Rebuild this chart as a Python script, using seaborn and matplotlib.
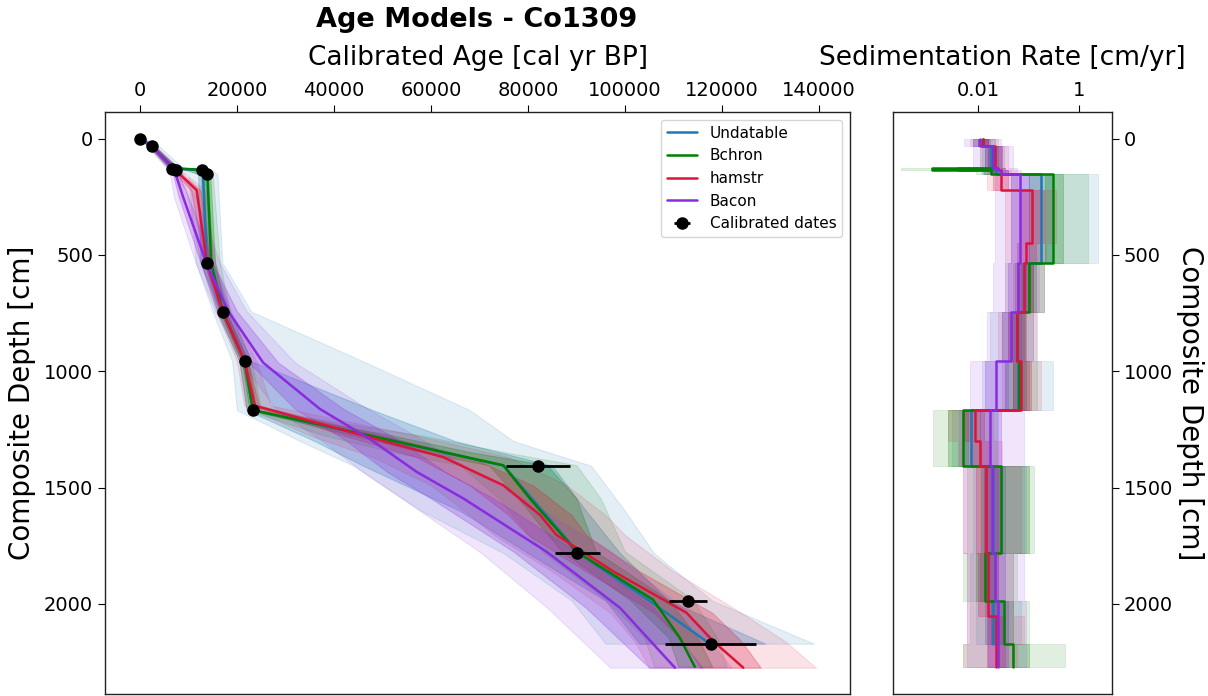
import numpy as np
import matplotlib
matplotlib.use("Agg")
import matplotlib.pyplot as plt
import seaborn as sns
from matplotlib.ticker import FixedLocator, NullLocator, FixedFormatter

# ---------------- calibrated dates ----------------
date_depth = [0, 34, 129, 134, 134, 151, 535, 744, 957, 1167, 1406, 1782, 1986, 2171]
date_age = [0, 2470, 6700, 7400, 12700, 13900, 13900, 17100, 21650, 23300, 82100, 90200, 113000, 117700]
date_err = [100, 150, 200, 200, 300, 300, 300, 350, 400, 500, 6600, 4700, 4000, 9400]

# ---------------- age-depth models (age in cal yr BP) ----------------
und_depth = [0, 34, 128, 137, 154, 534, 744, 957, 1167, 1300, 1406, 1600, 1782, 1986, 2171]
und_med = [0, 2500, 7000, 12800, 13000, 13800, 17100, 21600, 23300, 52000, 75000, 83000, 90500, 105000, 117500]
und_in_lo = [0, 2000, 6000, 10000, 12000, 12500, 16000, 20500, 22000, 36000, 46000, 66000, 80000, 96000, 103000]
und_in_hi = [500, 3000, 8000, 13500, 14000, 15000, 18500, 23000, 48000, 65000, 85000, 92000, 99000, 109000, 129000]
und_out_lo = [0, 1500, 5500, 6000, 10000, 11500, 15000, 19000, 20000, 33000, 44000, 58000, 75000, 89000, 96000]
und_out_hi = [1000, 4000, 9000, 15000, 16000, 17000, 23000, 46000, 68000, 77000, 93000, 100000, 106000, 118000, 139000]

bch_depth = [0, 34, 128, 134, 154, 534, 744, 957, 1167, 1276, 1347, 1404, 1547, 1775, 1982, 2145, 2270]
bch_med = [0, 2500, 7000, 12800, 13900, 14700, 17100, 21600, 23300, 47400, 62500, 74900, 80400, 90000, 105800, 111300, 114400]
bch_in_lo = [0, 2200, 6500, 11000, 13000, 14000, 16500, 21000, 22600, 44000, 58000, 72000, 78000, 87000, 101000, 109000, 111000]
bch_in_hi = [300, 2800, 7500, 13300, 14500, 15500, 17800, 22300, 24000, 52000, 68000, 84000, 90000, 94000, 109000, 115000, 118000]
bch_out_lo = [0, 1800, 6000, 9000, 12500, 13300, 16000, 20500, 22000, 38000, 52000, 66000, 74000, 83000, 96000, 104000, 106000]
bch_out_hi = [500, 3200, 8000, 13800, 15000, 16500, 18500, 23000, 25000, 58000, 75000, 90000, 95000, 100000, 114000, 119000, 121000]

ham_depth = [0, 34, 130, 222, 534, 744, 957, 1148, 1276, 1369, 1490, 1618, 1704, 1860, 2038, 2160, 2274]
ham_med = [0, 2500, 7000, 11700, 13800, 17100, 21600, 23700, 46000, 62500, 74900, 82500, 85900, 97600, 112700, 118200, 124400]
ham_in_lo = [0, 2200, 6500, 10500, 13300, 16500, 21000, 23000, 42000, 57000, 68000, 76000, 80000, 92000, 106000, 112000, 115500]
ham_in_hi = [300, 2800, 7500, 12500, 14500, 17800, 22300, 24500, 50000, 68000, 81000, 89000, 92000, 103000, 118000, 124000, 128000]
ham_out_lo = [0, 1800, 6000, 9500, 12500, 15800, 20000, 21500, 35000, 48000, 60000, 68000, 73000, 85000, 97000, 102000, 105000]
ham_out_hi = [500, 3200, 8000, 13500, 15500, 18800, 24000, 27000, 57000, 76000, 88000, 96000, 100000, 110000, 124000, 133000, 139400]

bac_depth = [0, 34, 130, 251, 535, 742, 963, 1162, 1291, 1433, 1547, 1775, 2017, 2274]
bac_med = [0, 2500, 7000, 8900, 13700, 18200, 25400, 37100, 47400, 57100, 66700, 83800, 99000, 110300]
bac_in_lo = [0, 2200, 6500, 8000, 12500, 16500, 22500, 32000, 42000, 51000, 60000, 77000, 92000, 105000]
bac_in_hi = [300, 2800, 7500, 10000, 15000, 20000, 28500, 42000, 53000, 63000, 73000, 90000, 106000, 116000]
bac_out_lo = [0, 1800, 6000, 7000, 11500, 15500, 21000, 28000, 37000, 46000, 54000, 70000, 84000, 97000]
bac_out_hi = [500, 3200, 8000, 11500, 16500, 22000, 32000, 47000, 58000, 69000, 79000, 97000, 112000, 122000]

# ---------------- sedimentation rates (cm/yr), per depth segment ----------------
sed_edges = [0, 34, 128, 137, 154, 222, 450, 534, 744, 957, 1167, 1300, 1406, 1782, 1986, 2050, 2171, 2270]

und_sr = [0.0126, 0.0178, 0.0040, 0.0224, 0.174, 0.174, 0.174, 0.083, 0.060, 0.062, 0.0074, 0.0074, 0.020, 0.0158, 0.020, 0.020]
und_sr_in_lo = [0.010, 0.014, 0.0030, 0.017, 0.10, 0.10, 0.10, 0.060, 0.040, 0.035, 0.0050, 0.0050, 0.013, 0.011, 0.014, 0.014]
und_sr_in_hi = [0.016, 0.023, 0.0080, 0.030, 0.30, 0.30, 0.30, 0.12, 0.085, 0.10, 0.011, 0.011, 0.035, 0.025, 0.030, 0.030]
und_sr_out_lo = [0.008, 0.011, 0.0021, 0.012, 0.045, 0.045, 0.045, 0.035, 0.017, 0.012, 0.0030, 0.0030, 0.008, 0.007, 0.009, 0.009]
und_sr_out_hi = [0.022, 0.030, 0.015, 0.045, 2.4, 2.4, 2.4, 0.20, 0.14, 0.30, 0.025, 0.025, 0.08, 0.05, 0.07, 0.07]

bch_sr = [0.0126, 0.020, 0.00126, 0.0178, 0.31, 0.31, 0.31, 0.10, 0.058, 0.066, 0.0050, 0.0050, 0.028, 0.0135, 0.032, 0.032, 0.05]
bch_sr_in_lo = [0.010, 0.016, 0.0014, 0.013, 0.21, 0.21, 0.21, 0.07, 0.045, 0.05, 0.0026, 0.0026, 0.0115, 0.009, 0.018, 0.018, 0.025]
bch_sr_in_hi = [0.016, 0.025, 0.006, 0.024, 0.47, 0.47, 0.47, 0.14, 0.08, 0.09, 0.0063, 0.0063, 0.10, 0.022, 0.05, 0.05, 0.10]
bch_sr_out_lo = [0.008, 0.012, 0.0003, 0.009, 0.10, 0.10, 0.10, 0.05, 0.03, 0.035, 0.0013, 0.0013, 0.006, 0.005, 0.007, 0.007, 0.005]
bch_sr_out_hi = [0.022, 0.032, 0.012, 0.035, 1.5, 1.5, 1.5, 0.2, 0.12, 0.15, 0.024, 0.024, 0.13, 0.06, 0.10, 0.10, 0.52]

ham_sr = [0.0126, 0.0214, 0.025, 0.029, 0.029, 0.115, 0.089, 0.083, 0.060, 0.072, 0.0087, 0.0112, 0.0145, 0.0158, 0.0158, 0.0229, 0.0229]
ham_sr_in_lo = [0.010, 0.016, 0.018, 0.02, 0.02, 0.07, 0.06, 0.055, 0.04, 0.05, 0.005, 0.007, 0.009, 0.010, 0.010, 0.015, 0.015]
ham_sr_in_hi = [0.017, 0.028, 0.035, 0.04, 0.04, 0.20, 0.14, 0.12, 0.09, 0.11, 0.013, 0.017, 0.025, 0.025, 0.025, 0.035, 0.035]
ham_sr_out_lo = [0.007, 0.011, 0.012, 0.015, 0.015, 0.035, 0.035, 0.035, 0.025, 0.03, 0.0026, 0.004, 0.005, 0.006, 0.006, 0.006, 0.005]
ham_sr_out_hi = [0.025, 0.04, 0.05, 0.06, 0.06, 0.35, 0.22, 0.2, 0.15, 0.18, 0.02, 0.03, 0.07, 0.05, 0.05, 0.08, 0.06]

bac_sr = [0.0112, 0.020, 0.024, 0.028, 0.068, 0.068, 0.068, 0.062, 0.046, 0.023, 0.017, 0.017, 0.019, 0.0214, 0.025, 0.025, 0.025]
bac_sr_in_lo = [0.008, 0.014, 0.016, 0.018, 0.045, 0.045, 0.045, 0.04, 0.03, 0.014, 0.011, 0.011, 0.013, 0.014, 0.016, 0.016, 0.016]
bac_sr_in_hi = [0.016, 0.03, 0.035, 0.04, 0.10, 0.10, 0.10, 0.09, 0.07, 0.04, 0.028, 0.028, 0.03, 0.035, 0.04, 0.04, 0.04]
bac_sr_out_lo = [0.0053, 0.008, 0.01, 0.012, 0.022, 0.022, 0.022, 0.02, 0.015, 0.007, 0.0043, 0.0043, 0.005, 0.006, 0.006, 0.006, 0.006]
bac_sr_out_hi = [0.029, 0.05, 0.06, 0.07, 0.18, 0.18, 0.18, 0.16, 0.12, 0.08, 0.083, 0.083, 0.09, 0.08, 0.09, 0.09, 0.09]

model_names = ["Undatable", "Bchron", "hamstr", "Bacon"]
model_colors = ["#1f77b4", "green", "crimson", "blueviolet"]

# ---------------- figure ----------------
sns.set_style("ticks")
plt.rcParams["font.family"] = ["DejaVu Sans"]
plt.rcParams.update({
    "text.color": "black",
    "axes.labelcolor": "black",
    "xtick.color": "black",
    "ytick.color": "black",
    "axes.edgecolor": "black",
})

W, H = 1208, 696
fig = plt.figure(figsize=(W / 100, H / 100), dpi=100)
ax1 = fig.add_axes([105 / W, 2 / H, 745 / W, 582 / H])
ax2 = fig.add_axes([893 / W, 2 / H, 219 / W, 582 / H])

age_models = [
    (und_depth, und_med, und_in_lo, und_in_hi, und_out_lo, und_out_hi),
    (bch_depth, bch_med, bch_in_lo, bch_in_hi, bch_out_lo, bch_out_hi),
    (ham_depth, ham_med, ham_in_lo, ham_in_hi, ham_out_lo, ham_out_hi),
    (bac_depth, bac_med, bac_in_lo, bac_in_hi, bac_out_lo, bac_out_hi),
]
sed_models = [
    (und_sr, und_sr_in_lo, und_sr_in_hi, und_sr_out_lo, und_sr_out_hi),
    (bch_sr, bch_sr_in_lo, bch_sr_in_hi, bch_sr_out_lo, bch_sr_out_hi),
    (ham_sr, ham_sr_in_lo, ham_sr_in_hi, ham_sr_out_lo, ham_sr_out_hi),
    (bac_sr, bac_sr_in_lo, bac_sr_in_hi, bac_sr_out_lo, bac_sr_out_hi),
]

# bands (left)
for (d, med, ilo, ihi, olo, ohi), c in zip(age_models, model_colors):
    ax1.fill_betweenx(d, olo, ohi, color=c, alpha=0.12, lw=0.8, zorder=1)
    ax1.fill_betweenx(d, ilo, ihi, color=c, alpha=0.25, lw=0.8, zorder=1)
# median lines (left)
for (d, med, *_), c, name in zip(age_models, model_colors, model_names):
    sns.lineplot(x=med, y=d, sort=False, estimator=None, color=c, lw=1.8,
                 label=name, ax=ax1, zorder=3, legend=False)

ax1.errorbar(date_age, date_depth, xerr=date_err, fmt="o", color="black",
             ms=8, elinewidth=2, capsize=0, label="Calibrated dates", zorder=5)

ax1.set_xlim(-7200, 146400)
ax1.set_ylim(2387, -114)
ax1.xaxis.tick_top()
ax1.set_xticks([0, 20000, 40000, 60000, 80000, 100000, 120000, 140000])
ax1.set_yticks([0, 500, 1000, 1500, 2000])
ax1.tick_params(labelsize=14, length=5)
ax1.xaxis.set_label_position("top")
ax1.set_xlabel("Calibrated Age [cal yr BP]", fontsize=19)
ax1.xaxis.set_label_coords(0.5, (694 - 58) / 582)
ax1.xaxis.label.set_va("center")
ax1.set_ylabel("Composite Depth [cm]", fontsize=20)
ax1.yaxis.set_label_coords((22 - 105) / 745, 0.5)
ax1.yaxis.label.set_va("center")
ax1.legend(loc="upper right", fontsize=11, framealpha=0.8)

fig.text(477 / W, 1 - 20 / H, "Age Models - Co1309", ha="center", va="center",
         fontsize=19.5, fontweight="bold")

# right panel: sedimentation rate
for (sr, ilo, ihi, olo, ohi), c in zip(sed_models, model_colors):
    n = len(sr)
    edges = np.array(sed_edges[: n + 1])
    dd = np.repeat(edges, 2)[1:-1]
    ax2.fill_betweenx(dd, np.repeat(olo, 2), np.repeat(ohi, 2), color=c, alpha=0.12, lw=0.6, zorder=1)
    ax2.fill_betweenx(dd, np.repeat(ilo, 2), np.repeat(ihi, 2), color=c, alpha=0.25, lw=0.6, zorder=1)
for (sr, *_), c in zip(sed_models, model_colors):
    n = len(sr)
    edges = np.array(sed_edges[: n + 1])
    dd = np.repeat(edges, 2)[1:-1]
    sns.lineplot(x=np.repeat(sr, 2), y=dd, sort=False, estimator=None, color=c,
                 lw=1.8, ax=ax2, zorder=3, legend=False)

ax2.set_xscale("log")
ax2.set_xlim(10 ** -3.68, 10 ** 0.65)
ax2.set_ylim(2387, -114)
ax2.xaxis.tick_top()
ax2.xaxis.set_major_locator(FixedLocator([0.01, 1]))
ax2.xaxis.set_major_formatter(FixedFormatter(["0.01", "1"]))
ax2.xaxis.set_minor_locator(NullLocator())
ax2.yaxis.tick_right()
ax2.set_yticks([0, 500, 1000, 1500, 2000])
ax2.tick_params(labelsize=14, length=5)
ax2.xaxis.set_label_position("top")
ax2.set_xlabel("Sedimentation Rate [cm/yr]", fontsize=19)
ax2.xaxis.set_label_coords(0.5, (694 - 58) / 582)
ax2.xaxis.label.set_va("center")
ax2.yaxis.set_label_position("right")
ax2.set_ylabel("Composite Depth [cm]", fontsize=20, rotation=270)
ax2.yaxis.set_label_coords((1190 - 893) / 219, 0.5)
ax2.yaxis.label.set_va("center")

for ax in (ax1, ax2):
    for s in ax.spines.values():
        s.set_color("#222222")
        s.set_linewidth(1.0)

fig.savefig("out.png", dpi=100)
